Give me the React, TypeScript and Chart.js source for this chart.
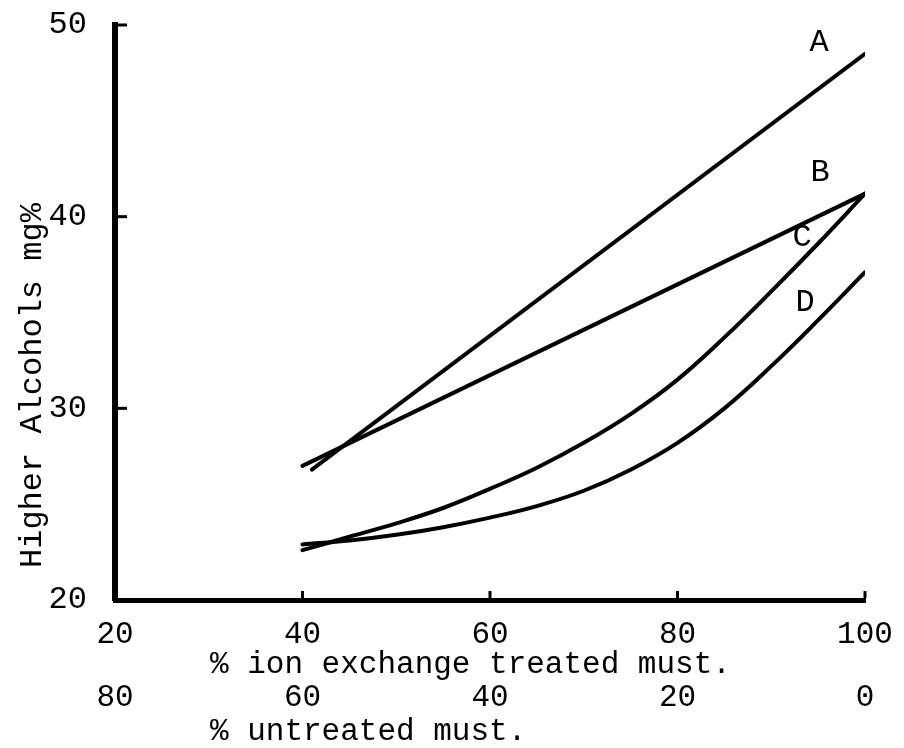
import React, { useEffect, useRef } from "react";
import { Chart, registerables } from "chart.js";

Chart.register(...registerables);

const FONT = "'Liberation Mono', 'Courier New', monospace";

// Higher alcohols (mg%) against the share of ion-exchange treated must
const lineAX = [41, 100];
const lineAY = [26.8, 48.5];

const lineBX = [40, 100];
const lineBY = [27.0, 41.2];

const curveX = [40, 45, 50, 55, 60, 65, 70, 75, 80, 85, 90, 95, 100];
const curveCY = [22.6, 23.3, 24.0, 24.8, 25.8, 26.9, 28.2, 29.7, 31.5, 33.7, 36.1, 38.6, 41.2];
const curveDY = [22.9, 23.1, 23.4, 23.8, 24.3, 24.9, 25.7, 26.8, 28.2, 30.0, 32.2, 34.6, 37.1];

// Curve letters, anchored in data units
const curveNames = ["A", "B", "C", "D"];
const curveNameX = [95.1, 95.2, 93.3, 93.6];
const curveNameY = [49.1, 42.3, 38.9, 35.5];

// Axis ranges and tick steps
const treatedRange = [20, 100];
const untreatedRange = [0, 80];
const alcoholRange = [20, 50];
const percentStep = 20;
const alcoholStep = 10;

const treatedTitle = "% ion exchange treated must.";
const untreatedTitle = "% untreated must.";
const alcoholTitle = "Higher Alcohols mg%";

const toPoints = (xs: number[], ys: number[]) => xs.map((x, i) => ({ x, y: ys[i] }));

// keep the plot frame fixed: no extra room reserved for overhanging tick labels
const clearLabelPadding = (scale: any) => {
  scale.paddingTop = 0;
  scale.paddingBottom = 0;
  scale.paddingLeft = 0;
  scale.paddingRight = 0;
};

const typewriterText = {
  id: "typewriterText",
  afterDraw(chart: any) {
    const { ctx, chartArea, scales } = chart;
    const xs = scales.x;
    const ys = scales.y;
    ctx.save();
    ctx.fillStyle = "#000";
    ctx.strokeStyle = "#000";

    // short inward tick marks on both axes
    ctx.lineWidth = 3;
    ctx.lineCap = "butt";
    ys.ticks.forEach((t: any) => {
      if (t.value <= alcoholRange[0]) return;
      const py = ys.getPixelForValue(t.value);
      ctx.beginPath();
      ctx.moveTo(chartArea.left + 2, py);
      ctx.lineTo(chartArea.left + 12, py);
      ctx.stroke();
    });
    xs.ticks.forEach((t: any) => {
      if (t.value <= treatedRange[0]) return;
      const px = xs.getPixelForValue(t.value);
      ctx.beginPath();
      ctx.moveTo(px, chartArea.bottom - 2);
      ctx.lineTo(px, chartArea.bottom - 9);
      ctx.stroke();
    });

    // curve letters
    ctx.font = `32px ${FONT}`;
    ctx.textAlign = "center";
    ctx.textBaseline = "middle";
    curveNames.forEach((name, i) => {
      ctx.fillText(name, xs.getPixelForValue(curveNameX[i]), ys.getPixelForValue(curveNameY[i]));
    });

    // axis titles
    ctx.font = `31px ${FONT}`;
    ctx.textAlign = "left";
    ctx.textBaseline = "alphabetic";
    ctx.fillText(treatedTitle, chartArea.left + 95, chartArea.bottom + 73);
    ctx.fillText(untreatedTitle, chartArea.left + 95, chartArea.bottom + 140);

    ctx.translate(41, chartArea.bottom - 32);
    ctx.rotate(-Math.PI / 2);
    ctx.font = `32px ${FONT}`;
    ctx.fillText(alcoholTitle, 0, 0);
    ctx.restore();
  },
};

const curveStyle = {
  borderColor: "#000",
  borderWidth: 4,
  pointRadius: 0,
  fill: false,
  borderCapStyle: "round" as const,
  borderJoinStyle: "round" as const,
};

export default function App() {
  const canvasRef = useRef<HTMLCanvasElement | null>(null);

  useEffect(() => {
    const canvas = canvasRef.current;
    if (!canvas) return;
    const chart = new Chart(canvas, {
      type: "line",
      data: {
        datasets: [
          { label: "A", data: toPoints(lineAX, lineAY), ...curveStyle, tension: 0 },
          { label: "B", data: toPoints(lineBX, lineBY), ...curveStyle, tension: 0 },
          { label: "C", data: toPoints(curveX, curveCY), ...curveStyle, tension: 0.4 },
          { label: "D", data: toPoints(curveX, curveDY), ...curveStyle, tension: 0.4 },
        ],
      },
      options: {
        animation: false,
        responsive: false,
        events: [],
        layout: { padding: { left: 0, top: 25, right: 39, bottom: 0 } },
        plugins: {
          legend: { display: false },
          tooltip: { enabled: false },
          title: { display: false },
        },
        scales: {
          x: {
            type: "linear",
            position: "bottom",
            weight: 0,
            min: treatedRange[0],
            max: treatedRange[1],
            grid: { display: false, drawTicks: false },
            border: { display: true, color: "#000", width: 5 },
            ticks: {
              stepSize: percentStep,
              color: "#000",
              padding: 16,
              maxRotation: 0,
              autoSkip: false,
              font: { family: FONT, size: 31 },
            },
            afterFit: (scale: any) => {
              scale.height = 70;
              clearLabelPadding(scale);
            },
          },
          x2: {
            type: "linear",
            position: "bottom",
            weight: 1,
            reverse: true,
            min: untreatedRange[0],
            max: untreatedRange[1],
            grid: { display: false, drawTicks: false },
            border: { display: false },
            ticks: {
              stepSize: percentStep,
              color: "#000",
              padding: 9,
              maxRotation: 0,
              autoSkip: false,
              font: { family: FONT, size: 31 },
            },
            afterFit: (scale: any) => {
              scale.height = 78;
              clearLabelPadding(scale);
            },
          },
          y: {
            type: "linear",
            position: "left",
            min: alcoholRange[0],
            max: alcoholRange[1],
            grid: { display: false, drawTicks: false },
            border: { display: true, color: "#000", width: 6 },
            ticks: {
              stepSize: alcoholStep,
              color: "#000",
              padding: 28,
              font: { family: FONT, size: 32 },
            },
            afterFit: (scale: any) => {
              scale.width = 115;
              clearLabelPadding(scale);
            },
          },
        },
      },
      plugins: [typewriterText],
    });
    return () => chart.destroy();
  }, []);

  return (
    <div style={{ position: "fixed", left: 0, top: 0, width: 904, height: 748, background: "#fff" }}>
      <canvas ref={canvasRef} width={904} height={748} />
    </div>
  );
}
